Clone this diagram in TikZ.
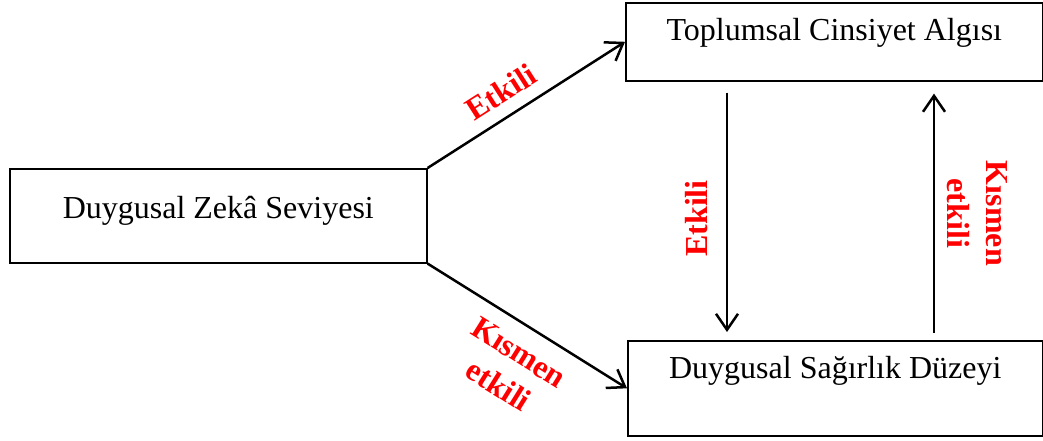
\documentclass[tikz,border=0pt]{standalone}
\usepackage{fontspec}
\setmainfont{Liberation Serif}
\usetikzlibrary{arrows.meta}

\tikzset{
  kutu/.style={draw, line width=1.6pt, inner sep=0pt, anchor=north west,
    font=\fontsize{32}{38}\selectfont},
  ok/.style={line width=2.5pt, -{Straight Barb[length=16pt,width=22pt,line width=2.5pt]}},
  etki/.style={text=red, align=center, font=\bfseries\fontsize{32}{39}\selectfont}
}

\begin{document}
\begin{tikzpicture}[x=1pt,y=-1pt]
\useasboundingbox (0,0) rectangle (1043,441);
% kutular
\node[kutu, minimum width=417pt, text height=50pt, text depth=44pt] (zeka) at (9,168) {Duygusal Zekâ Seviyesi};
\node[kutu, minimum width=417pt, text height=38pt, text depth=40pt] (algi) at (625,2) {Toplumsal Cinsiyet Algısı};
\node[kutu, minimum width=415pt, text height=38pt, text depth=57pt] (sagir) at (627,340) {Duygusal Sağırlık Düzeyi};
% oklar
\draw[ok] (zeka.north east) -- (algi.west)
  node[etki, pos=0.44, sloped, anchor=south, inner sep=12pt] {Etkili};
\draw[ok] (zeka.south east) -- (sagir.west)
  node[etki, pos=0.53, sloped, anchor=north, inner sep=15pt] {Kısmen\\etkili};
\draw[ok, shorten <=11pt, shorten >=8pt] (algi.south -| 727,0) -- (sagir.north -| 727,0)
  node[etki, pos=0.53, rotate=90, anchor=south, inner sep=18pt] {Etkili};
\draw[ok, shorten <=7pt, shorten >=12pt] (sagir.north -| 934,0) -- (algi.south -| 934,0)
  node[etki, pos=0.49, rotate=-90, anchor=south, inner sep=12pt] {Kısmen\\etkili};
\end{tikzpicture}
\end{document}
